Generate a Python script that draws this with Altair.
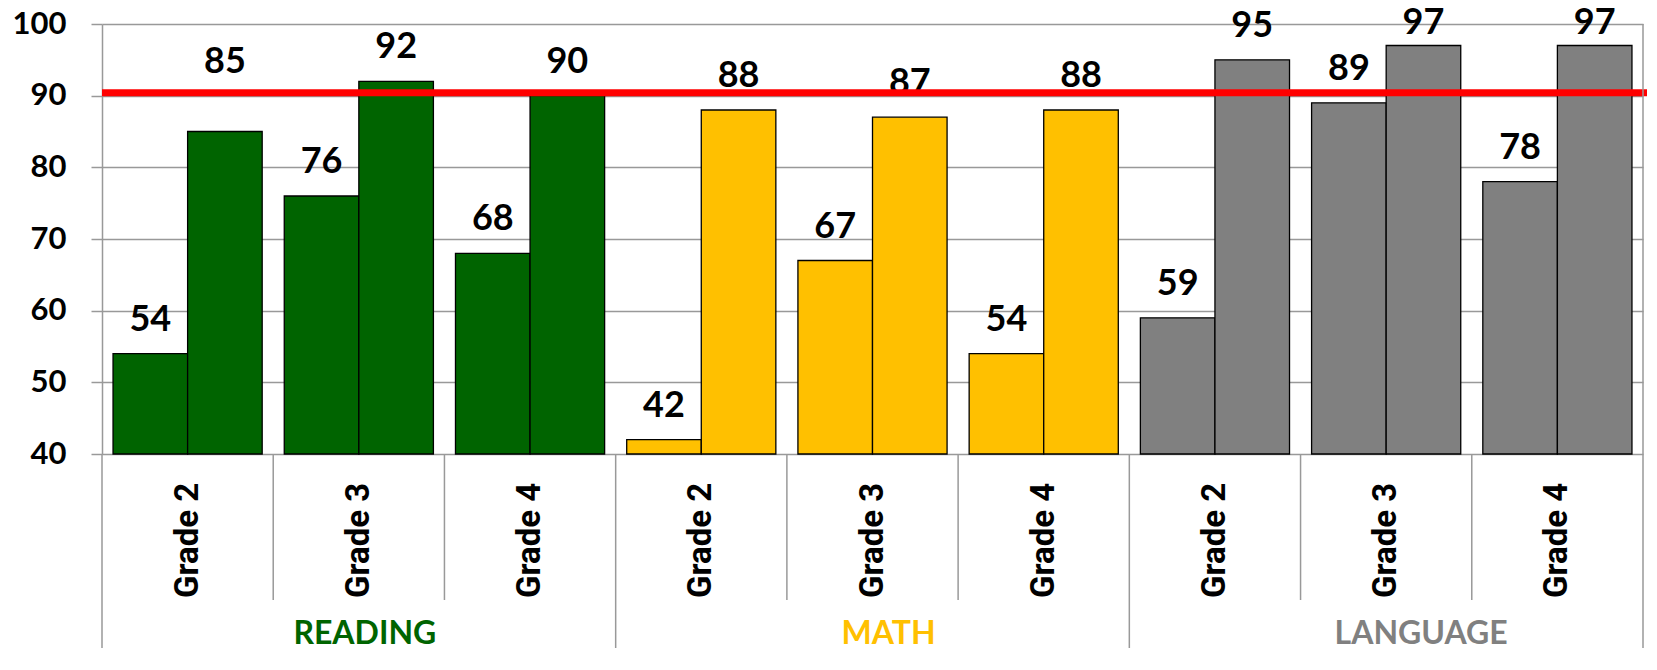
import altair as alt
import pandas as pd

# ---------------- data ----------------
subjects = ["READING", "MATH", "LANGUAGE"]
grades = ["Grade 2", "Grade 3", "Grade 4"]
series = ["First", "Second"]
first_values = [54, 76, 68, 42, 67, 54, 59, 89, 78]
second_values = [85, 92, 90, 88, 87, 88, 95, 97, 97]
target = [90.4]
subject_colors = ["#006400", "#FFC000", "#808080"]
y_ticks = [40, 50, 60, 70, 80, 90, 100]

# ---------------- layout constants ----------------
W, H = 1541, 430
PAD = {"left": 94, "top": 16, "right": 4, "bottom": 194}
Y_MIN, Y_MAX = 40, 100
GRID = "#999999"

groups = [f"{s}|{g}" for s in subjects for g in grades]

# label placement rule (data units): a little above the bar, pushed above the
# target line if it would sit right on it, and kept inside the top of the chart
LIFT, CAP, TOP_LIMIT = 3.2, 3.8, 98.6


def label_base(v):
    b = v + LIFT
    t = target[0]
    if b < t - 1 and b + CAP > t + 1:
        b = t + 2.7
    return min(b, TOP_LIMIT)


rows = []
for i, key in enumerate(groups):
    subj, grade = key.split("|")
    for sname, vals in zip(series, [first_values, second_values]):
        rows.append({"grp": key, "subject": subj, "grade": grade,
                     "series": sname, "value": vals[i],
                     "label_y": label_base(vals[i])})
bars_df = pd.DataFrame(rows)

grp_df = pd.DataFrame({
    "grp": groups,
    "grade": [k.split("|")[1] for k in groups],
    "subject": [k.split("|")[0] for k in groups],
    "start": [i % len(grades) == 0 for i in range(len(groups))],
})

x_scale = alt.Scale(domain=groups, paddingInner=0, paddingOuter=0)
y_scale = alt.Scale(domain=[Y_MIN, Y_MAX], zero=False, nice=False)
off_scale = alt.Scale(domain=series, paddingInner=0, paddingOuter=0.148)
col_scale = alt.Scale(domain=subjects, range=subject_colors)

bars = alt.Chart(bars_df).mark_bar(stroke="black", strokeWidth=1.3).encode(
    x=alt.X("grp:N", scale=x_scale, axis=None),
    xOffset=alt.XOffset("series:N", scale=off_scale),
    y=alt.Y("value:Q", scale=y_scale, title=None,
            axis=alt.Axis(values=y_ticks, grid=True, format="d")),
    y2=alt.datum(Y_MIN),
    color=alt.Color("subject:N", scale=col_scale, legend=None),
)

labels = alt.Chart(bars_df).mark_text(
    font="Lato", fontWeight="bold", fontSize=36, baseline="alphabetic",
    color="black"
).encode(
    x=alt.X("grp:N", scale=x_scale, axis=None),
    xOffset=alt.XOffset("series:N", scale=off_scale),
    y=alt.Y("label_y:Q", scale=y_scale),
    text=alt.Text("value:Q"),
)

red = alt.Chart(pd.DataFrame({"target": target})).mark_rule(
    color="#FF0000", strokeWidth=7
).encode(
    y=alt.Y("target:Q", scale=y_scale),
    x=alt.value(0),
    x2=alt.value(W + PAD["right"]),
)

grade_seps = alt.Chart(grp_df).transform_filter("!datum.start").mark_rule(
    color=GRID, strokeWidth=1.5
).encode(
    x=alt.X("grp:N", scale=x_scale, bandPosition=0, axis=None),
    y=alt.value(H),
    y2=alt.value(576),
)

subject_seps = alt.Chart(grp_df).transform_filter("datum.start").mark_rule(
    color=GRID, strokeWidth=1.5
).encode(
    x=alt.X("grp:N", scale=x_scale, bandPosition=0, axis=None),
    y=alt.value(H),
    y2=alt.value(H + PAD["bottom"]),
)

end_sep = alt.Chart(grp_df.tail(1)).mark_rule(
    color=GRID, strokeWidth=1.5
).encode(
    x=alt.X("grp:N", scale=x_scale, bandPosition=1, axis=None),
    y=alt.value(0),
    y2=alt.value(H + PAD["bottom"]),
)

grade_labels = alt.Chart(grp_df).mark_text(
    font="Roboto", fontWeight="bold", fontSize=33,
    angle=270, align="left", baseline="middle", color="black"
).encode(
    x=alt.X("grp:N", scale=x_scale, axis=None),
    y=alt.value(574),
    text="grade:N",
)

subject_dx = [6, 16, 35]
subject_layers = []
for s, c, d in zip(subjects, subject_colors, subject_dx):
    mid = f"{s}|{grades[len(grades) // 2]}"
    subject_layers.append(
        alt.Chart(pd.DataFrame({"grp": [mid], "subject": [s]})).mark_text(
            font="Lato", fontWeight="bold", fontSize=32, baseline="middle",
            align="center", color=c, dx=d
        ).encode(
            x=alt.X("grp:N", scale=x_scale, axis=None),
            y=alt.value(610),
            text="subject:N",
        )
    )

chart = alt.layer(
    bars, labels, red, grade_seps, subject_seps, end_sep, grade_labels,
    *subject_layers
).properties(
    width=W, height=H,
    autosize=alt.AutoSizeParams(type="none"),
    padding=PAD,
).configure_view(stroke=None).configure_axisY(
    domainColor=GRID, domainWidth=1.5,
    tickColor=GRID, tickWidth=1.5, tickSize=11,
    gridColor=GRID, gridWidth=1.5,
    labelFont="Lato", labelFontWeight="bold", labelFontSize=31,
    labelColor="black", labelPadding=25,
)

chart.save("out.html", embed_options={"renderer": "svg", "actions": False})
